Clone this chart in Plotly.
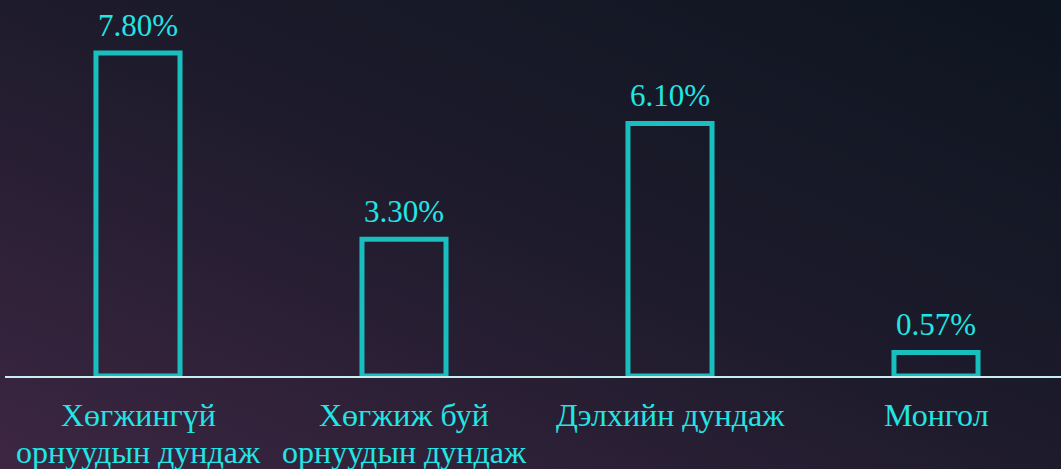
import base64
import plotly.graph_objects as go

categories = ["Хөгжингүй<br>орнуудын дундаж", "Хөгжиж буй<br>орнуудын дундаж", "Дэлхийн дундаж", "Монгол"]
values = [7.80, 3.30, 6.10, 0.57]
labels = ["7.80%", "3.30%", "6.10%", "0.57%"]

FONT = "Liberation Serif"
CYAN = "#22e5e5"
W, H = 1061, 469
svg = f'''<svg xmlns="http://www.w3.org/2000/svg" width="{W}" height="{H}" viewBox="0 0 {W} {H}" preserveAspectRatio="none">
<defs><linearGradient id="g" x1="0" y1="1" x2="1" y2="0">
<stop offset="0" stop-color="#3d2642"/><stop offset="0.5" stop-color="#1e1b2c"/><stop offset="1" stop-color="#0d1520"/>
</linearGradient></defs><rect width="{W}" height="{H}" fill="url(#g)"/></svg>'''
bg = "data:image/svg+xml;base64," + base64.b64encode(svg.encode()).decode()

xs = list(range(len(categories)))
fig = go.Figure()
fig.add_trace(go.Bar(
    x=xs, y=values, width=0.316,
    marker=dict(color="rgba(0,0,0,0)", line=dict(color="#19bfbf", width=5)),
    hoverinfo="skip",
))
for xv, yv, t in zip(xs, values, labels):
    fig.add_annotation(x=xv, y=yv, text=t, showarrow=False, yanchor="bottom",
                       yshift=8, font=dict(family=FONT, size=31, color=CYAN))
# category labels, one annotation per line for tighter line spacing
for xv, cat in zip(xs, categories):
    for j, line in enumerate(cat.split("<br>")):
        fig.add_annotation(x=xv, xref="x", y=0, yref="paper", text=line, showarrow=False,
                           yanchor="middle", yshift=-39 - 37 * j,
                           font=dict(family=FONT, size=32, color=CYAN))

fig.update_layout(
    width=W, height=H,
    margin=dict(l=5, r=0, t=0, b=93),
    paper_bgcolor="#1e1b2c", plot_bgcolor="rgba(0,0,0,0)",
    showlegend=False,
    font=dict(family=FONT),
    images=[dict(source=bg, xref="paper", yref="paper", x=-5/1056, y=1, sizex=W/1056, sizey=H/376,
                 xanchor="left", yanchor="top", sizing="stretch", layer="below")],
    xaxis=dict(range=[-0.5, -0.5 + 1056/266], tickvals=xs, showticklabels=False,
               showgrid=False, zeroline=False, showline=True, linecolor="#c8eeee", linewidth=2,
               ticks=""),
    yaxis=dict(range=[0, 376/41.41], visible=False, showgrid=False, zeroline=False),
)
fig.write_html("out.html", config={"displayModeBar": False},
               post_script="document.body.style.margin='0';document.body.style.padding='0';document.body.style.overflow='hidden';")
